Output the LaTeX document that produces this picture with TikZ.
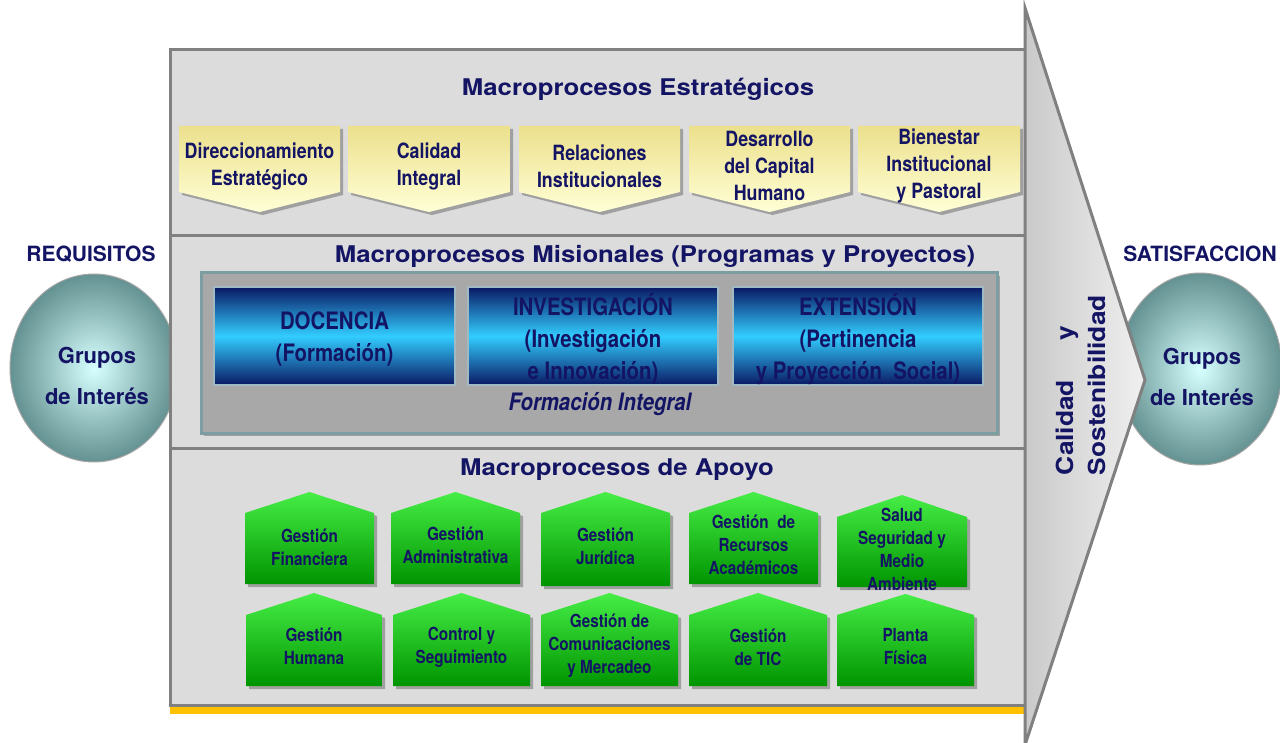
\documentclass[tikz,border=0pt]{standalone}
\usepackage{fontspec}
\setmainfont{TeX Gyre Heros}
\newfontfamily\widefont[FakeStretch=1.12]{TeX Gyre Heros}
\newfontfamily\narrowfont[FakeStretch=0.85]{TeX Gyre Heros}
\definecolor{txtc}{RGB}{20,20,100}
\definecolor{panelc}{RGB}{220,220,220}
\definecolor{framec}{RGB}{128,128,128}
\definecolor{yTop}{RGB}{236,224,140}
\definecolor{yBot}{RGB}{255,255,214}
\definecolor{gTop}{RGB}{70,238,70}
\definecolor{gBot}{RGB}{0,148,0}
\definecolor{bDark}{RGB}{10,25,100}
\definecolor{bLight}{RGB}{50,205,255}
\definecolor{bEdge}{RGB}{160,185,195}
\definecolor{midfill}{RGB}{168,168,168}
\definecolor{midedge}{RGB}{125,158,160}
\definecolor{cIn}{RGB}{215,255,255}
\definecolor{cOut}{RGB}{100,145,145}
\definecolor{goldc}{RGB}{255,192,0}
\definecolor{shadc}{RGB}{160,160,160}
\newcommand\YellowBox[4]{%
  \begin{scope}[xshift=1.5pt,yshift=-1.5pt]
    \fill[shadc] (#2,126) -- (#3,126) -- (#3,192) -- ({(#2+#3)/2},212) -- (#2,192) -- cycle;
  \end{scope}
  \shade[top color=yTop,bottom color=yBot] (#2,126) -- (#3,126) -- (#3,192) -- ({(#2+#3)/2},212) -- (#2,192) -- cycle;
  \node[ytext] (#1) at ({(#2+#3)/2},166) {#4};}
\newcommand\GreenHouse[8]{%
  \begin{scope}[xshift=1.5pt,yshift=-1.5pt]
    \fill[shadc] (#2,#5) -- ({(#2+#3)/2},#4) -- (#3,#5) -- (#3,#6) -- (#2,#6) -- cycle;
  \end{scope}
  \shade[top color=gTop,bottom color=gBot] (#2,#5) -- ({(#2+#3)/2},#4) -- (#3,#5) -- (#3,#6) -- (#2,#6) -- cycle;
  \node[gtext] (#1) at ({(#2+#3)/2},#7) {#8};}
\newcommand\BlueBox[4]{%
  \shade[top color=bDark,bottom color=bDark,middle color=bLight] (#2,287) rectangle (#3,385);
  \draw[bEdge,line width=1pt] (#2,287) rectangle (#3,385);
  \node[btext] (#1) at ({(#2+#3)/2},339) {#4};}
\begin{document}
\begin{tikzpicture}[x=0.5pt,y=-0.5pt,
  frame/.style={draw=framec,line width=1.5pt},
  title/.style={text=txtc,font=\widefont\bfseries\fontsize{11.5}{14}\selectfont,inner sep=0},
  ytext/.style={text=txtc,font=\narrowfont\bfseries\fontsize{10.5}{13.5}\selectfont,align=center,inner sep=0},
  gtext/.style={text=txtc,font=\narrowfont\bfseries\fontsize{9}{11.5}\selectfont,align=center,inner sep=0},
  btext/.style={text=txtc,font=\narrowfont\bfseries\fontsize{12}{16}\selectfont,align=center,inner sep=0},
  labtxt/.style={text=txtc,font=\bfseries\fontsize{10.5}{12}\selectfont,inner sep=0},
  circtxt/.style={text=txtc,font=\bfseries\fontsize{11}{20.5}\selectfont,align=center,inner sep=0}]
\useasboundingbox (0,0) rectangle (1280,743);
% interest groups
\shadedraw[inner color=cIn,outer color=cOut,draw=gray!70,line width=0.5pt] (94,368) ellipse [x radius=84,y radius=94];
\shadedraw[inner color=cIn,outer color=cOut,draw=gray!70,line width=0.5pt] (1200,369) ellipse [x radius=82,y radius=96];
\node[circtxt] (gL) at (97,376) {Grupos\\de Interés};
\node[circtxt] (gR) at (1202,377) {Grupos\\de Interés};
\node[labtxt] (req) at (91,254) {REQUISITOS};
\node[labtxt] (sat) at (1200,254) {SATISFACCION};
% main panel
\fill[panelc] (170,50) rectangle (1025,705);
\fill[goldc] (170,706) rectangle (1025,714);
\draw[frame] (170,50) rectangle (1025,705);
\draw[frame] (170,236) -- (1025,236);
\draw[frame] (170,448) -- (1025,448);
% arrow
\shadedraw[left color=gray!42,right color=gray!12,draw=framec,line width=1.5pt] (1025,8) -- (1145,380) -- (1025,745) -- cycle;
\node[rotate=90,text=txtc,font=\widefont\bfseries\fontsize{11.75}{16}\selectfont,text width=100pt,align=left,inner sep=0] (cs) at (1081,375) {Calidad\hspace{1.7em}y\\Sostenibilidad};
% titles
\node[title] (tEst) at (638,89) {Macroprocesos Estratégicos};
\node[title] (tMis) at (655,256) {Macroprocesos Misionales (Programas y Proyectos)};
\node[title] (tApo) at (617,470) {Macroprocesos de Apoyo};
% strategic
\YellowBox{y1}{179}{340}{Direccionamiento\\Estratégico}
\YellowBox{y2}{348}{510}{Calidad\\Integral}
\YellowBox{y3}{519}{680}{Relaciones\\Institucionales}
\YellowBox{y4}{689}{850}{Desarrollo\\del Capital\\Humano}
\YellowBox{y5}{858}{1020}{Bienestar\\Institucional\\y Pastoral}
% missional
\begin{scope}[xshift=1.5pt,yshift=-1.5pt]
\fill[shadc] (201,273) rectangle (997,433);
\end{scope}
\draw[draw=midedge,fill=midfill,line width=1.5pt] (201,273) rectangle (997,433);
\BlueBox{b1}{214}{455}{DOCENCIA\\(Formación)}
\BlueBox{b2}{468}{718}{INVESTIGACIÓN\\(Investigación\\e Innovación)}
\BlueBox{b3}{733}{983}{EXTENSIÓN\\(Pertinencia\\y Proyección~ Social)}
\node[text=txtc,font=\narrowfont\bfseries\itshape\fontsize{12}{14}\selectfont,inner sep=0] (fi) at (600,404) {Formación Integral};
% support
\GreenHouse{g1}{245}{374}{492}{513}{584}{547}{Gestión\\Financiera}
\GreenHouse{g2}{391}{520}{492}{513}{584}{545}{Gestión\\Administrativa}
\GreenHouse{g3}{541}{670}{492}{513}{586}{546}{Gestión\\Jurídica}
\GreenHouse{g4}{689}{818}{492}{513}{584}{545}{Gestión~ de\\Recursos\\Académicos}
\GreenHouse{g5}{837}{967}{495}{517}{587}{549}{Salud\\Seguridad y\\Medio\\Ambiente}
\GreenHouse{g6}{246}{382}{593}{615}{686}{646}{Gestión\\Humana}
\GreenHouse{g7}{393}{530}{593}{615}{686}{647}{Control y\\Seguimiento}
\GreenHouse{g8}{541}{678}{593}{615}{686}{646}{Gestión de\\Comunicaciones\\y Mercadeo}
\GreenHouse{g9}{689}{827}{593}{615}{686}{647}{Gestión\\de TIC}
\GreenHouse{g10}{837}{974}{594}{615}{686}{647}{Planta\\Física}
\end{tikzpicture}
\end{document}
